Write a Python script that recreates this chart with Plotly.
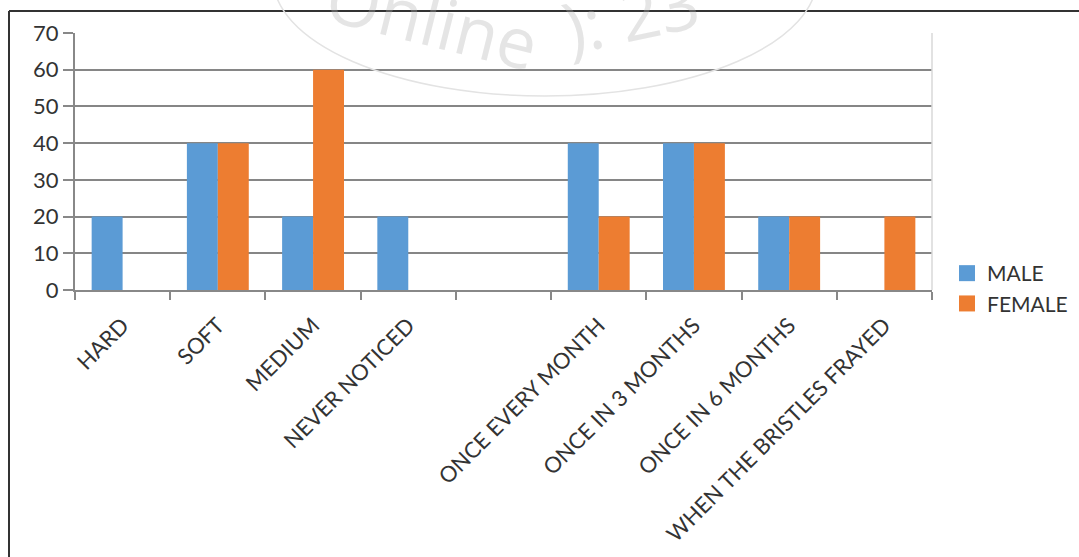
import plotly.graph_objects as go

categories = ["HARD", "SOFT", "MEDIUM", "NEVER NOTICED", " ",
              "ONCE EVERY MONTH", "ONCE IN 3 MONTHS", "ONCE IN 6 MONTHS",
              "WHEN THE BRISTLES FRAYED"]
male = [20, 40, 20, 20, 0, 40, 40, 20, 0]
female = [0, 40, 60, 0, 0, 20, 40, 20, 20]
y_ticks = [0, 10, 20, 30, 40, 50, 60, 70]
series_names = ["MALE", "FEMALE"]
series_colors = ["#5B9BD5", "#ED7D31"]

W, H = 1079, 557
L, R, T, B = 75, 147, 33, 267
pw, ph = W - L - R, H - T - B

def px(x):
    return (x - L) / pw

def py(y):
    return 1 - (y - T) / ph

fig = go.Figure()
for name, vals, col in zip(series_names, [male, female], series_colors):
    fig.add_bar(x=categories, y=vals, name=name, showlegend=False,
                marker=dict(color=col, line=dict(width=0)))
# legend entries with larger square swatches
for name, col in zip(series_names, series_colors):
    fig.add_scatter(x=[None], y=[None], mode="markers", name=name,
                    marker=dict(symbol="square", size=18, color=col))

font_fam = "Lato, 'Open Sans', sans-serif"

fig.update_layout(
    width=W, height=H,
    margin=dict(l=L, r=R, t=T, b=B, autoexpand=False),
    paper_bgcolor="white", plot_bgcolor="white",
    barmode="group", bargap=0.35, bargroupgap=0,
    font=dict(family=font_fam, size=21, color="#333333"),
    showlegend=True,
    legend=dict(xref="container", yref="container", x=947 / W, y=1 - 253 / H,
                xanchor="left", yanchor="top",
                font=dict(size=21, color="#333333"),
                bgcolor="rgba(0,0,0,0)", itemsizing="trace"),
    xaxis=dict(type="category", tickson="boundaries", ticks="outside", ticklen=8,
               tickcolor="#888888", tickwidth=1.5, showline=True, linecolor="#888888",
               linewidth=2, tickangle=-45, tickfont=dict(size=22, color="#333333"),
               ticklabelstandoff=12, automargin=False,
               showgrid=False, range=[-0.5, 8.5]),
    yaxis=dict(range=[0, 70], tickvals=y_ticks, ticks="outside", ticklen=10,
               tickcolor="#888888", tickwidth=1.5, showline=True, linecolor="#888888",
               linewidth=2, showgrid=True, gridcolor="#868686", gridwidth=2,
               automargin=False,
               zeroline=False, tickfont=dict(size=22, color="#333333")),
)

# right edge line of plot area
fig.add_shape(type="line", xref="paper", yref="paper", x0=1, x1=1, y0=0, y1=1,
              line=dict(color="#d9d9d9", width=1.5))

# outer frame (cropped chart border)
fig.add_shape(type="line", xref="paper", yref="paper", x0=px(9), x1=px(1079), y0=py(11), y1=py(11),
              line=dict(color="#333333", width=2))
fig.add_shape(type="line", xref="paper", yref="paper", x0=px(9), x1=px(9), y0=py(11), y1=py(557),
              line=dict(color="#333333", width=2))

# faint watermark (stamp arc + curved text)
fig.add_shape(type="circle", xref="paper", yref="paper",
              x0=px(273), x1=px(817), y0=py(96), y1=py(-140),
              line=dict(color="#e3e3e3", width=1.5), layer="above")
wm_color = "rgba(175,175,175,0.33)"
fig.add_annotation(text="Online", xref="paper", yref="paper", x=px(432), y=py(-56),
                   showarrow=False, textangle=14,
                   font=dict(size=70, color=wm_color, family="Open Sans"))
fig.add_annotation(text="): 23", xref="paper", yref="paper", x=px(630), y=py(-50),
                   showarrow=False, textangle=-12,
                   font=dict(size=70, color=wm_color, family="Open Sans"))

fig.write_html("out.html")
